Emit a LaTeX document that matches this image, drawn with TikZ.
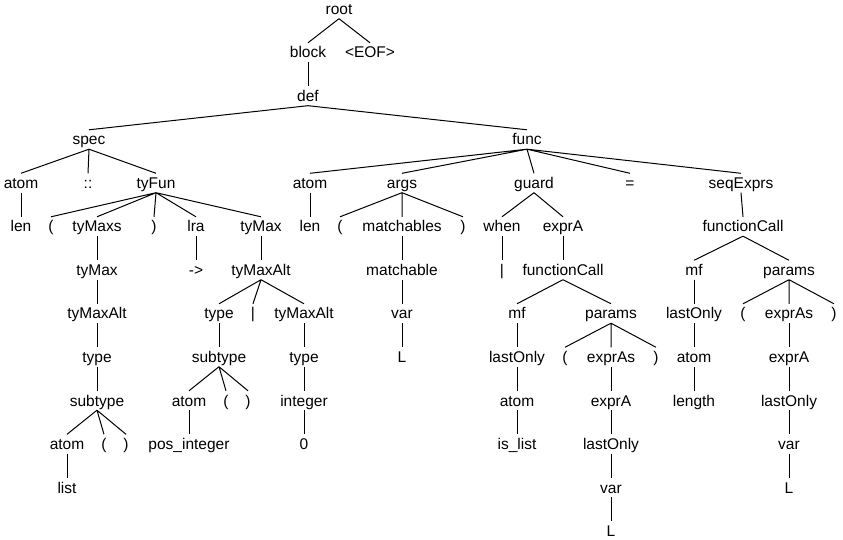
\documentclass[tikz,border=0pt]{standalone}
\usepackage{fontspec}
\setmainfont{Liberation Sans}
\usetikzlibrary{positioning}

\tikzset{
  tn/.style={anchor=base, text height=12pt, text depth=1pt, inner xsep=1pt, inner ysep=3pt,
             font=\fontsize{15.5}{18}\selectfont},
  br/.style={line width=1pt}
}

\begin{document}
\begin{tikzpicture}[x=1pt, y=-43.5pt]
    \useasboundingbox (0,-0.3333) rectangle (843,12.0805);
    % level 0 - 3
    \node(root) [tn] at (339,0) {root};
    \node(block) [tn] at (308,1) {block};
    \node(eof) [tn] at (370,1) {<EOF>};
    \node(def) [tn] at (308,2) {def};
    \node(spec) [tn] at (89,3) {spec};
    \node(func) [tn] at (527,3) {func};
    % level 4
    \node(atomA) [tn] at (21,4) {atom};
    \node(dcolon) [tn] at (88,4) {::};
    \node(tyFun) [tn] at (156,4) {tyFun};
    \node(atomB) [tn] at (310,4) {atom};
    \node(args) [tn] at (402,4) {args};
    \node(guard) [tn] at (534,4) {guard};
    \node(eq) [tn] at (630,4) {=};
    \node(seqExprs) [tn] at (741,4) {seqExprs};
    % level 5
    \node(lenA) [tn] at (21,5) {len};
    \node(lpA) [tn] at (51,5) {(};
    \node(tyMaxs) [tn] at (97,5) {tyMaxs};
    \node(rpA) [tn] at (154,5) {)};
    \node(lra) [tn] at (196,5) {lra};
    \node(tyMaxB) [tn] at (261,5) {tyMax};
    \node(lenB) [tn] at (310,5) {len};
    \node(lpB) [tn] at (340,5) {(};
    \node(matchables) [tn] at (402,5) {matchables};
    \node(rpB) [tn] at (463,5) {)};
    \node(when) [tn] at (502,5) {when};
    \node(exprAA) [tn] at (563,5) {exprA};
    \node(callB) [tn] at (743,5) {functionCall};
    % level 6
    \node(tyMaxA) [tn] at (97,6) {tyMax};
    \node(arrow) [tn] at (196,6) {->};
    \node(tyMaxAltB) [tn] at (261,6) {tyMaxAlt};
    \node(matchable) [tn] at (402,6) {matchable};
    \node(barB) [tn] at (502,6) {|};
    \node(callA) [tn] at (563,6) {functionCall};
    \node(mfB) [tn] at (694,6) {mf};
    \node(paramsB) [tn] at (789,6) {params};
    % level 7
    \node(tyMaxAltA) [tn] at (97,7) {tyMaxAlt};
    \node(typeB) [tn] at (219,7) {type};
    \node(barA) [tn] at (253,7) {|};
    \node(tyMaxAltC) [tn] at (304,7) {tyMaxAlt};
    \node(varA) [tn] at (402,7) {var};
    \node(mfA) [tn] at (517,7) {mf};
    \node(paramsA) [tn] at (611,7) {params};
    \node(lastOnlyC) [tn] at (694,7) {lastOnly};
    \node(lpF) [tn] at (743,7) {(};
    \node(exprAsB) [tn] at (789,7) {exprAs};
    \node(rpF) [tn] at (834,7) {)};
    % level 8
    \node(typeA) [tn] at (97,8) {type};
    \node(subtypeB) [tn] at (219,8) {subtype};
    \node(typeC) [tn] at (304,8) {type};
    \node(ellA) [tn] at (402,8) {L};
    \node(lastOnlyA) [tn] at (517,8) {lastOnly};
    \node(lpE) [tn] at (565,8) {(};
    \node(exprAsA) [tn] at (611,8) {exprAs};
    \node(rpE) [tn] at (656,8) {)};
    \node(atomF) [tn] at (694,8) {atom};
    \node(exprAC) [tn] at (789,8) {exprA};
    % level 9
    \node(subtypeA) [tn] at (97,9) {subtype};
    \node(atomD) [tn] at (189,9) {atom};
    \node(lpD) [tn] at (226,9) {(};
    \node(rpD) [tn] at (248,9) {)};
    \node(integer) [tn] at (304,9) {integer};
    \node(atomE) [tn] at (517,9) {atom};
    \node(exprAB) [tn] at (611,9) {exprA};
    \node(length) [tn] at (694,9) {length};
    \node(lastOnlyD) [tn] at (789,9) {lastOnly};
    % level 10
    \node(atomC) [tn] at (67,10) {atom};
    \node(lpC) [tn] at (104,10) {(};
    \node(rpC) [tn] at (126,10) {)};
    \node(posint) [tn] at (189,10) {pos\_integer};
    \node(zero) [tn] at (304,10) {0};
    \node(islist) [tn] at (517,10) {is\_list};
    \node(lastOnlyB) [tn] at (611,10) {lastOnly};
    \node(varC) [tn] at (789,10) {var};
    % level 11 - 12
    \node(list) [tn] at (67,11) {list};
    \node(varB) [tn] at (611,11) {var};
    \node(ellC) [tn] at (789,11) {L};
    \node(ellB) [tn] at (611,12) {L};

    % branches
    \draw[br] (root.south) -- (block.north) (root.south) -- (eof.north);
    \draw[br] (block.south) -- (def.north);
    \draw[br] (def.south) -- (spec.north) (def.south) -- (func.north);
    \draw[br] (spec.south) -- (atomA.north) (spec.south) -- (dcolon.north) (spec.south) -- (tyFun.north);
    \draw[br] (atomA.south) -- (lenA.north);
    \draw[br] (tyFun.south) -- (lpA.north) (tyFun.south) -- (tyMaxs.north) (tyFun.south) -- (rpA.north)
              (tyFun.south) -- (lra.north) (tyFun.south) -- (tyMaxB.north);
    \draw[br] (tyMaxs.south) -- (tyMaxA.north);
    \draw[br] (tyMaxA.south) -- (tyMaxAltA.north);
    \draw[br] (tyMaxAltA.south) -- (typeA.north);
    \draw[br] (typeA.south) -- (subtypeA.north);
    \draw[br] (subtypeA.south) -- (atomC.north) (subtypeA.south) -- (lpC.north) (subtypeA.south) -- (rpC.north);
    \draw[br] (atomC.south) -- (list.north);
    \draw[br] (lra.south) -- (arrow.north);
    \draw[br] (tyMaxB.south) -- (tyMaxAltB.north);
    \draw[br] (tyMaxAltB.south) -- (typeB.north) (tyMaxAltB.south) -- (barA.north) (tyMaxAltB.south) -- (tyMaxAltC.north);
    \draw[br] (typeB.south) -- (subtypeB.north);
    \draw[br] (subtypeB.south) -- (atomD.north) (subtypeB.south) -- (lpD.north) (subtypeB.south) -- (rpD.north);
    \draw[br] (atomD.south) -- (posint.north);
    \draw[br] (tyMaxAltC.south) -- (typeC.north);
    \draw[br] (typeC.south) -- (integer.north);
    \draw[br] (integer.south) -- (zero.north);
    \draw[br] (func.south) -- (atomB.north) (func.south) -- (args.north) (func.south) -- (guard.north)
              (func.south) -- (eq.north) (func.south) -- (seqExprs.north);
    \draw[br] (atomB.south) -- (lenB.north);
    \draw[br] (args.south) -- (lpB.north) (args.south) -- (matchables.north) (args.south) -- (rpB.north);
    \draw[br] (matchables.south) -- (matchable.north);
    \draw[br] (matchable.south) -- (varA.north);
    \draw[br] (varA.south) -- (ellA.north);
    \draw[br] (guard.south) -- (when.north) (guard.south) -- (exprAA.north);
    \draw[br] (when.south) -- (barB.north);
    \draw[br] (exprAA.south) -- (callA.north);
    \draw[br] (callA.south) -- (mfA.north) (callA.south) -- (paramsA.north);
    \draw[br] (mfA.south) -- (lastOnlyA.north);
    \draw[br] (lastOnlyA.south) -- (atomE.north);
    \draw[br] (atomE.south) -- (islist.north);
    \draw[br] (paramsA.south) -- (lpE.north) (paramsA.south) -- (exprAsA.north) (paramsA.south) -- (rpE.north);
    \draw[br] (exprAsA.south) -- (exprAB.north);
    \draw[br] (exprAB.south) -- (lastOnlyB.north);
    \draw[br] (lastOnlyB.south) -- (varB.north);
    \draw[br] (varB.south) -- (ellB.north);
    \draw[br] (seqExprs.south) -- (callB.north);
    \draw[br] (callB.south) -- (mfB.north) (callB.south) -- (paramsB.north);
    \draw[br] (mfB.south) -- (lastOnlyC.north);
    \draw[br] (lastOnlyC.south) -- (atomF.north);
    \draw[br] (atomF.south) -- (length.north);
    \draw[br] (paramsB.south) -- (lpF.north) (paramsB.south) -- (exprAsB.north) (paramsB.south) -- (rpF.north);
    \draw[br] (exprAsB.south) -- (exprAC.north);
    \draw[br] (exprAC.south) -- (lastOnlyD.north);
    \draw[br] (lastOnlyD.south) -- (varC.north);
    \draw[br] (varC.south) -- (ellC.north);
\end{tikzpicture}
\end{document}
